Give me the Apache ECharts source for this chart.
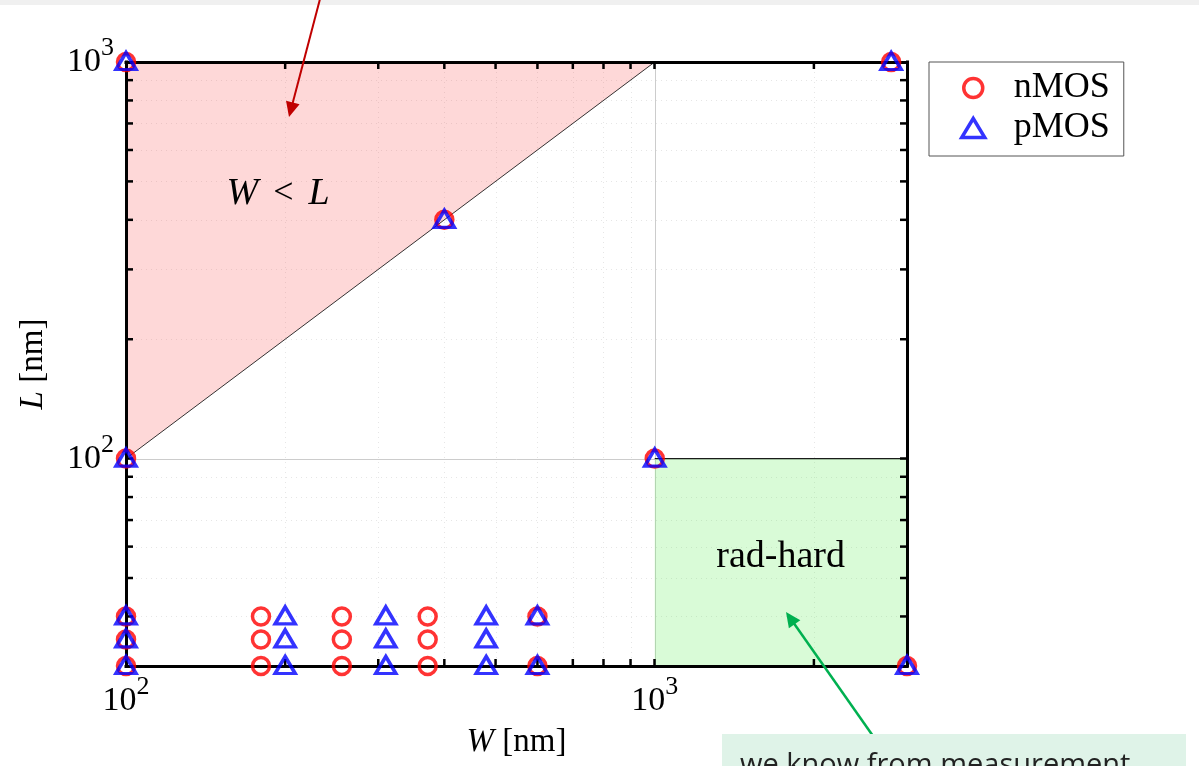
<!DOCTYPE html>
<html>
<head>
<meta charset="utf-8">
<script src="https://cdn.jsdelivr.net/npm/echarts@6/dist/echarts.min.js"></script>
<style>
  html, body { margin: 0; padding: 0; background: #fff; }
  #chart { width: 1199px; height: 766px; }
</style>
</head>
<body>
<div id="chart"></div>
<script>
// Transistor geometries, width W and length L in nm
const W_RANGE = [100, 3000];
const L_RANGE = [30, 1000];

const nmosW = [100, 100, 100, 100, 100, 180, 180, 180, 256, 256, 256, 372, 372, 372, 600, 600, 400, 1000, 2800, 3000];
const nmosL = [1000, 100, 40, 35, 30, 40, 35, 30, 40, 35, 30, 40, 35, 30, 40, 30, 400, 100, 1000, 30];
const pmosW = [100, 100, 100, 100, 100, 200, 200, 200, 310, 310, 310, 480, 480, 480, 600, 600, 400, 1000, 2800, 3000];
const pmosL = [1000, 100, 40, 35, 30, 40, 35, 30, 40, 35, 30, 40, 35, 30, 40, 30, 400, 100, 1000, 30];

// W = L boundary and the upper edge of the rad-hard corner
const diagonalW = [100, 1000];
const diagonalL = [100, 1000];
const radHardW = [1000, 3000];
const radHardL = [100, 100];

// Log-axis ticks between the decades
const xMinorTicks = [200, 300, 400, 500, 600, 700, 800, 900, 2000];
const yMinorTicks = [40, 50, 60, 70, 80, 90, 200, 300, 400, 500, 600, 700, 800, 900];
const xMajorGrid = [1000];
const yMajorGrid = [100];

const SERIF = '"Liberation Serif", "Times New Roman", serif';
const TICK = 7;

const chart = echarts.init(document.getElementById('chart'), null, { renderer: 'canvas' });

const pairs = (xs, ys) => xs.map((x, i) => [x, ys[i]]);

// "10^n" labels on decades only
function decadeLabel(v) {
  const e = Math.round(Math.log10(v));
  if (Math.abs(Math.pow(10, e) - v) > 1e-6 * v) return '';
  return '{b|10}{s|' + e + '}';
}
const decadeRich = {
  b: { fontFamily: SERIF, fontSize: 34, lineHeight: 44, verticalAlign: 'bottom', color: '#000' },
  s: { fontFamily: SERIF, fontSize: 26, lineHeight: 24, verticalAlign: 'top', color: '#000' }
};

function vGridLine(style) {
  return function (params, api) {
    const v = api.value(0);
    const a = api.coord([v, L_RANGE[1]]);
    const b = api.coord([v, L_RANGE[0]]);
    const x = Math.round(a[0]) + 0.5;
    return { type: 'line', shape: { x1: x, y1: a[1], x2: x, y2: b[1] }, style: style };
  };
}
function hGridLine(style) {
  return function (params, api) {
    const v = api.value(1);
    const a = api.coord([W_RANGE[0], v]);
    const b = api.coord([W_RANGE[1], v]);
    const y = Math.round(a[1]) + 0.5;
    return { type: 'line', shape: { x1: a[0], y1: y, x2: b[0], y2: y }, style: style };
  };
}
const tickStyle = { stroke: '#000', lineWidth: 2.5 };
function xTicks(params, api) {
  const v = api.value(0);
  const t = api.coord([v, L_RANGE[1]]);
  const b = api.coord([v, L_RANGE[0]]);
  return { type: 'group', children: [
    { type: 'line', shape: { x1: b[0], y1: b[1], x2: b[0], y2: b[1] - TICK }, style: tickStyle },
    { type: 'line', shape: { x1: t[0], y1: t[1], x2: t[0], y2: t[1] + TICK }, style: tickStyle }
  ] };
}
function yTicks(params, api) {
  const v = api.value(1);
  const l = api.coord([W_RANGE[0], v]);
  const r = api.coord([W_RANGE[1], v]);
  return { type: 'group', children: [
    { type: 'line', shape: { x1: l[0], y1: l[1], x2: l[0] + TICK, y2: l[1] }, style: tickStyle },
    { type: 'line', shape: { x1: r[0], y1: r[1], x2: r[0] - TICK, y2: r[1] }, style: tickStyle }
  ] };
}

const minorGridStyle = { stroke: '#e6e6e6', lineWidth: 1, lineDash: [1, 4] };
const majorGridStyle = { stroke: '#cccccc', lineWidth: 1 };

const frameLine = { color: '#000', width: 3, cap: 'square' };
const majorTick = { show: true, inside: true, length: TICK, lineStyle: { color: '#000', width: 2.5 } };

function logAxis(base, extra) {
  return Object.assign({
    type: 'log', logBase: 10, min: base[0], max: base[1], z: 3,
    axisLine: { show: true, onZero: false, lineStyle: frameLine },
    axisTick: majorTick,
    minorTick: { show: false },
    splitLine: { show: false },
    minorSplitLine: { show: false },
    axisLabel: { show: false }
  }, extra);
}

const axisNameStyle = {
  fontFamily: SERIF, fontSize: 33, color: '#000',
  rich: { i: { fontFamily: SERIF, fontSize: 33, fontStyle: 'italic', color: '#000' } }
};

const option = {
  animation: false,
  backgroundColor: '#fff',
  grid: { left: 126, right: 292, top: 62, bottom: 100, containLabel: false, outerBoundsMode: 'none' },
  xAxis: [
    logAxis(W_RANGE, {
      position: 'bottom',
      axisLabel: { show: true, margin: 8, formatter: decadeLabel, rich: decadeRich, showMinLabel: true, showMaxLabel: true },
      name: '{i|W} [nm]', nameLocation: 'middle', nameGap: 60, nameTextStyle: axisNameStyle
    }),
    logAxis(W_RANGE, { position: 'top' })
  ],
  yAxis: [
    logAxis(L_RANGE, {
      position: 'left',
      axisLabel: { show: true, margin: 12, padding: [0, 0, 9, 0], formatter: decadeLabel, rich: decadeRich, showMinLabel: true, showMaxLabel: true },
      name: '{i|L} [nm]', nameLocation: 'middle', nameGap: 76, nameTextStyle: axisNameStyle
    }),
    logAxis(L_RANGE, { position: 'right' })
  ],
  legend: {
    data: ['nMOS', 'pMOS'],
    orient: 'vertical',
    left: 929, top: 62,
    padding: [8, 14, 10, 31],
    itemGap: 4,
    itemWidth: 23, itemHeight: 19,
    backgroundColor: '#fff',
    borderColor: '#555', borderWidth: 1,
    itemStyle: { borderWidth: 3.5 },
    formatter: name => '{g|}' + name,
    textStyle: { fontFamily: SERIF, fontSize: 36, lineHeight: 36, color: '#000', rich: { g: { width: 24 } } }
  },
  series: [
    { type: 'custom', name: 'minor-x', coordinateSystem: 'cartesian2d', silent: true, z: 1,
      data: xMinorTicks.map(v => [v, L_RANGE[0]]), renderItem: vGridLine(minorGridStyle) },
    { type: 'custom', name: 'minor-y', coordinateSystem: 'cartesian2d', silent: true, z: 1,
      data: yMinorTicks.map(v => [W_RANGE[0], v]), renderItem: hGridLine(minorGridStyle) },
    { type: 'custom', name: 'major-x', coordinateSystem: 'cartesian2d', silent: true, z: 1,
      data: xMajorGrid.map(v => [v, L_RANGE[0]]), renderItem: vGridLine(majorGridStyle) },
    { type: 'custom', name: 'major-y', coordinateSystem: 'cartesian2d', silent: true, z: 1,
      data: yMajorGrid.map(v => [W_RANGE[0], v]), renderItem: hGridLine(majorGridStyle) },
    { type: 'line', name: 'W<L', data: pairs(diagonalW, diagonalL), symbol: 'none', silent: true, z: 2,
      lineStyle: { color: '#000', width: 0.8 },
      areaStyle: { origin: 'end', opacity: 1, color: 'rgba(250, 100, 100, 0.25)' } },
    { type: 'line', name: 'rad-hard', data: pairs(radHardW, radHardL), symbol: 'none', silent: true, z: 2,
      lineStyle: { color: '#000', width: 1 },
      areaStyle: { origin: 'start', opacity: 1, color: 'rgba(103, 239, 95, 0.25)' } },
    { type: 'custom', name: 'ticks-x', coordinateSystem: 'cartesian2d', silent: true, z: 3,
      data: xMinorTicks.map(v => [v, L_RANGE[0]]), renderItem: xTicks },
    { type: 'custom', name: 'ticks-y', coordinateSystem: 'cartesian2d', silent: true, z: 3,
      data: yMinorTicks.map(v => [W_RANGE[0], v]), renderItem: yTicks },
    { type: 'scatter', name: 'nMOS', data: pairs(nmosW, nmosL), z: 4, clip: false,
      symbol: 'circle', symbolSize: 17,
      itemStyle: { color: 'rgba(255,255,255,0)', borderColor: '#ff0000', borderWidth: 3.5 } },
    { type: 'scatter', name: 'pMOS', data: pairs(pmosW, pmosL), z: 4, clip: false,
      symbol: 'triangle', symbolSize: [20, 17], symbolOffset: [0, -1],
      itemStyle: { color: 'rgba(255,255,255,0)', borderColor: '#0000ff', borderWidth: 3.5 } }
  ]
};

chart.setOption(option);

// Annotations: labels anchored in data space, arrows on the page
const px = p => chart.convertToPixel({ xAxisIndex: 0, yAxisIndex: 0 }, p);

function arrow(from, to, color, width, headLen, headHalf) {
  const dx = to[0] - from[0], dy = to[1] - from[1];
  const len = Math.hypot(dx, dy);
  const ux = dx / len, uy = dy / len;
  const bx = to[0] - ux * headLen, by = to[1] - uy * headLen;
  return [
    { type: 'line', z: 100, shape: { x1: from[0], y1: from[1], x2: bx + ux, y2: by + uy },
      style: { stroke: color, lineWidth: width } },
    { type: 'polygon', z: 100, shape: { points: [to, [bx - uy * headHalf, by + ux * headHalf], [bx + uy * headHalf, by - ux * headHalf]] },
      style: { fill: color } }
  ];
}

const wlText = px([194, 465]);
const radText = px([1730, 56.6]);

chart.setOption({
  graphic: [
    { type: 'rect', z: 99, shape: { x: 0, y: 0, width: 1199, height: 5 }, style: { fill: '#f0f0f0' } },
    { type: 'text', z: 100, x: wlText[0], y: wlText[1],
      style: { text: '{i|W}{g|}<{g|}{i|L}', align: 'center', verticalAlign: 'middle', fill: '#000',
        fontFamily: SERIF, fontSize: 36,
        rich: { i: { fontFamily: SERIF, fontSize: 38, fontStyle: 'italic' }, g: { width: 15 } } } },
    { type: 'text', z: 100, x: radText[0], y: radText[1],
      style: { text: 'rad-hard', align: 'center', verticalAlign: 'middle', fill: '#000', fontFamily: SERIF, fontSize: 38 } },
    ...arrow([320, -1], [289, 117], '#c00000', 2, 15, 7),
    ...arrow([873, 736], [786, 612], '#00b050', 2.5, 15, 7),
    { type: 'rect', z: 101, shape: { x: 722, y: 734, width: 464, height: 40 }, style: { fill: '#dff3e8' } },
    { type: 'text', z: 102, x: 740, y: 751,
      style: { text: 'we know from measurement', fill: '#222', fontFamily: '"Open Sans", "Noto Sans", sans-serif', fontSize: 29, verticalAlign: 'top' } }
  ]
});
</script>
</body>
</html>
